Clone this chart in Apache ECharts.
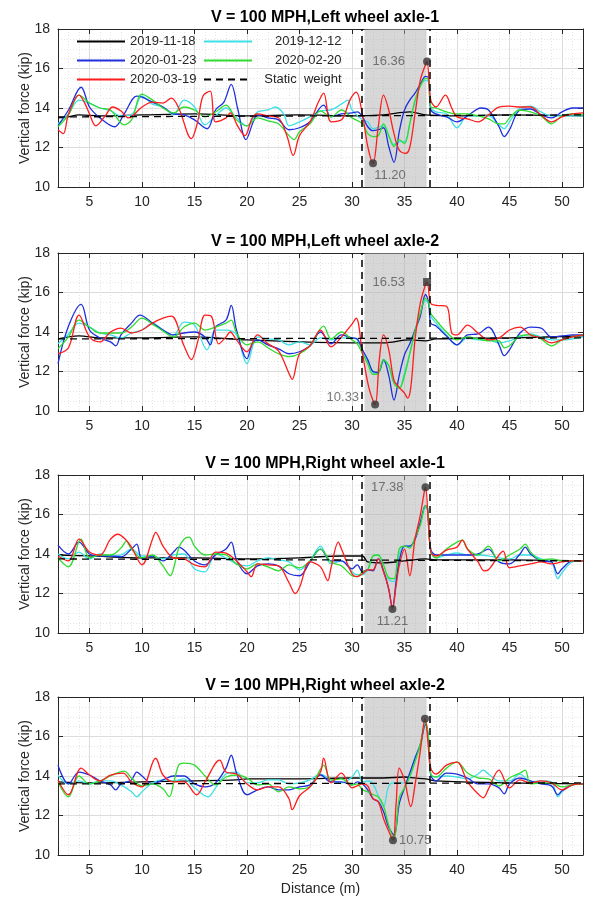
<!DOCTYPE html>
<html>
<head>
<meta charset="utf-8">
<script src="https://cdn.jsdelivr.net/npm/echarts@6/dist/echarts.min.js"></script>
<style>
html, body { margin: 0; padding: 0; background: #fff; }
#chart { width: 589px; height: 901px; }
</style>
</head>
<body>
<div id="chart"></div>
<script>
// series names (legend order follows plotting order)
const names = ["2019-11-18", "2019-12-12", "2020-01-23", "2020-02-20", "2020-03-19", "Static weight"];
const titles = [
  "V = 100 MPH,Left wheel axle-1",
  "V = 100 MPH,Left wheel axle-2",
  "V = 100 MPH,Right wheel axle-1",
  "V = 100 MPH,Right wheel axle-2"
];
const shade = [31.2, 37.1];      // gray band (m)
const vlines = [30.9, 37.4];     // dashed markers (m)

// ---- panel 1: left wheel axle-1  [distance m, force kip]
const p1Black = [[2,13.5],[3,13.55],[4,13.65],[6,13.6],[10,13.65],[15,13.7],[20,13.6],[25,13.65],[30,13.6],[33,13.65],[35.5,13.8],[37,13.65],[40,13.6],[45,13.65],[52,13.6]];
const p1Cyan = [[2,13.2],[3,13.7],[4,14.4],[5,14.25],[6,14.0],[7,13.85],[8,13.6],[9,13.65],[10,14.6],[11,14.2],[12,14.05],[13,13.65],[14,14.4],[15,14.05],[16,13.15],[17,13.6],[18,14.0],[19,13.5],[20,13.1],[21,13.8],[22,13.9],[22.7,14.05],[23.5,13.7],[24,13.1],[25,13.3],[26,13.55],[27,13.85],[28,13.9],[29,14.2],[29.6,14.4],[30,13.9],[31,13.4],[31.5,13.3],[32,12.95],[33,13.1],[33.5,12.6],[34,12.15],[34.5,12.3],[35,12.3],[35.5,13.2],[36,14.3],[36.5,15.1],[37,15.4],[37.3,15.3],[37.5,14.05],[38,13.8],[39,13.7],[40,13.0],[41,13.6],[42,13.6],[43,13.6],[44,13.15],[44.5,12.95],[45,13.3],[46,14.0],[47,14.1],[48,13.8],[49,13.6],[50,13.6],[51,13.6],[52,13.6]];
const p1Blue = [[2,13.1],[3,13.9],[4.2,15.05],[5,14.05],[6,13.5],[7.4,13.05],[8.3,13.7],[9.5,14.6],[10,14.55],[11,14.3],[12,14.05],[13,13.7],[14,13.65],[15,13.4],[16.2,12.95],[17,13.9],[17.8,14.3],[18.5,15.2],[19.1,14.0],[19.9,12.4],[20.6,13.3],[21,13.65],[22,13.5],[23,13.4],[24,12.9],[25,13.0],[26,13.3],[27.3,14.15],[28,13.55],[29,13.7],[30,13.75],[30.5,13.8],[31,13.55],[31.5,13.05],[32,12.85],[32.5,12.9],[33,13.0],[33.5,12.05],[34,11.25],[34.5,12.8],[35,13.9],[35.5,14.4],[36,14.75],[36.5,15.2],[37,15.6],[37.3,15.5],[37.5,13.9],[38,13.7],[39,13.55],[40,13.3],[41,13.6],[42.3,14.0],[43,13.9],[44,13.05],[44.5,12.55],[45,12.9],[46,13.9],[47,13.95],[48,13.65],[49,13.5],[50,13.8],[51,14.0],[52,14.0]];
const p1Green = [[2,13.05],[3,13.65],[4,14.65],[5,14.25],[6,14.0],[7,13.9],[8.3,13.15],[9,13.4],[10,14.7],[11,14.4],[12,14.0],[13,13.75],[14,14.05],[15,13.9],[16,13.55],[17,13.8],[18,14.15],[19,13.4],[20,13.1],[21,13.5],[22,13.35],[23,13.2],[24,12.6],[24.5,12.4],[25,12.8],[26,13.2],[27,13.85],[28,13.55],[29,13.9],[30,13.5],[31,13.2],[31.5,12.7],[32,12.55],[32.5,12.6],[33,13.2],[33.5,12.6],[34,12.05],[34.5,12.4],[35,12.2],[35.5,13.2],[36,14.4],[36.5,15.1],[37,15.5],[37.3,15.4],[37.5,14.05],[38,14.0],[39,13.8],[40,13.7],[41,13.7],[42,13.6],[43,13.45],[44,13.2],[44.5,13.2],[45,13.5],[46,13.9],[47,13.8],[48,13.6],[49,13.2],[50,13.6],[51,13.7],[52,13.65]];
const p1Red = [[2,12.9],[2.5,12.7],[3,13.7],[4,14.65],[4.5,14.3],[5,13.7],[5.6,13.1],[6.5,13.6],[7.2,14.05],[8,13.85],[8.7,13.5],[10,14.05],[11,14.3],[12,14.25],[12.8,14.5],[13.5,14.0],[14.7,12.45],[15.3,13.3],[15.8,14.6],[16.5,14.85],[17,13.3],[18,13.5],[18.4,13.75],[19.1,13.1],[19.8,12.6],[20.5,13.5],[21,13.7],[22,13.6],[23,13.5],[23.8,12.6],[24.4,11.6],[25,12.6],[26,13.3],[26.8,14.3],[27.3,14.75],[28,13.3],[29,13.4],[29.8,14.4],[30.4,14.8],[31,13.65],[31.5,12.05],[32,11.2],[32.5,13.05],[33,14.65],[33.5,13.9],[34,12.7],[34.5,11.87],[35.1,11.7],[35.5,12.0],[36,13.7],[36.5,15.4],[37,16.2],[37.15,16.36],[37.5,14.4],[38,14.05],[38.9,14.65],[39.5,14.0],[40,13.55],[41,13.45],[42,13.3],[43,13.65],[44,14.05],[45,14.1],[46,14.05],[47,14.05],[48,13.65],[49,13.3],[50,13.55],[51,13.7],[52,13.75]];
const p1Static = [[2,13.55],[52,13.65]];
const p1Peaks = [[37.15,16.36],[32.0,11.20]];

// ---- panel 2: left wheel axle-2
const p2Black = [[2,13.65],[4,13.8],[6,13.7],[10,13.7],[15,13.75],[20,13.6],[25,13.5],[30,13.45],[33,13.45],[35.5,13.6],[37,13.55],[38,13.65],[45,13.7],[52,13.8]];
const p2Cyan = [[2,13.4],[3,13.9],[4,14.45],[5,14.25],[6,13.95],[7,13.85],[8,13.7],[9,13.95],[10,14.1],[11,14.45],[12,14.1],[13,13.85],[14,14.5],[15,14.35],[16.2,13.1],[17,14.1],[18,14.1],[19,13.85],[20,12.4],[21,13.75],[22,13.65],[23,13.6],[24,13.35],[25,13.5],[26,13.35],[27,13.7],[28,13.6],[29,13.7],[30,13.7],[30.5,13.6],[31,13.0],[31.5,12.55],[32,11.95],[32.5,11.9],[33,12.5],[33.5,12.3],[34,11.4],[34.5,11.15],[35,11.95],[35.5,12.9],[36,14.05],[36.5,14.95],[37,15.6],[37.3,15.4],[37.5,14.8],[38,14.45],[39,13.85],[40,13.35],[41,13.7],[42,13.6],[43,13.6],[44,13.45],[45,13.55],[46,13.75],[47,13.9],[48,13.75],[49,13.6],[50,13.6],[51,13.65],[52,13.75]];
const p2Blue = [[2,12.4],[3,14.3],[4.2,15.4],[5,14.1],[6,13.7],[7,13.5],[7.5,13.3],[8,13.85],[9,14.45],[9.8,14.85],[11,14.45],[12,14.1],[13,13.85],[14,13.95],[15,14.0],[16,13.75],[16.5,13.35],[17,14.25],[18,14.6],[18.5,15.35],[19,14.1],[20,12.65],[20.5,13.4],[21,13.6],[22,13.35],[23,13.15],[24,12.9],[25,13.0],[26,13.3],[27,14.0],[28,13.4],[29,13.85],[30,13.7],[30.5,13.65],[31,13.1],[31.5,12.6],[32,12.0],[32.5,11.95],[33,12.6],[33.5,11.8],[34,10.55],[34.5,11.8],[35,12.85],[35.5,13.4],[36,14.1],[36.5,14.8],[37,15.9],[37.3,15.5],[37.5,14.45],[38,14.3],[39,13.8],[40,13.35],[41,13.85],[42,13.9],[43,14.25],[44,13.35],[44.5,12.8],[45,13.1],[46,13.95],[47,14.25],[48,14.2],[49,13.75],[50,13.8],[51,13.85],[52,13.85]];
const p2Green = [[2,13.15],[3,13.75],[4,14.6],[5,14.25],[6,13.95],[7,13.95],[8,13.95],[9,14.25],[10,14.7],[11,14.4],[12,14.05],[13,13.75],[14,14.25],[15,14.45],[16,14.1],[17,14.25],[18,14.45],[18.5,14.6],[19,13.95],[20,13.35],[21,13.5],[22,13.2],[23,12.9],[24,12.75],[25,12.9],[26,13.3],[27.3,14.3],[28,13.65],[29,14.0],[30,13.6],[30.5,13.4],[31,12.9],[31.5,12.4],[32,11.85],[32.5,11.9],[33,12.6],[33.5,12.3],[34,11.4],[34.5,11.15],[35,11.8],[35.5,12.9],[36,14.05],[36.5,14.95],[37,15.7],[37.3,15.5],[37.5,14.95],[38,14.6],[39,14.0],[40,13.6],[41,13.75],[42,13.65],[43,13.55],[44,13.55],[44.5,13.2],[45,13.3],[46,13.8],[47,13.85],[48,13.65],[49,13.3],[50,13.6],[51,13.75],[52,13.85]];
const p2Red = [[2,12.9],[3,13.2],[4,14.85],[5,13.75],[6,13.5],[7,14.0],[8,14.2],[9,13.95],[10,14.1],[11,14.45],[12,14.7],[12.8,14.8],[14,13.3],[14.7,12.6],[15.3,13.5],[16,14.85],[16.6,14.8],[17.3,13.4],[18,13.75],[18.4,14.0],[19,13.6],[20,13.0],[21,13.85],[22,13.4],[23,13.05],[24,11.9],[24.3,11.6],[25,12.9],[26,13.3],[27,14.1],[28,13.25],[29,13.75],[30,14.4],[30.4,14.7],[31,12.9],[31.6,11.2],[32.2,10.33],[32.6,12.6],[33,13.85],[33.5,13.1],[34,11.55],[34.5,11.2],[35,10.9],[35.3,10.65],[35.6,11.2],[36,13.6],[36.5,15.45],[37,16.4],[37.15,16.53],[37.5,15.45],[38,15.35],[39,15.3],[39.5,13.95],[40,13.85],[41,14.35],[42,13.95],[43,13.6],[44,13.7],[45,14.1],[46,14.25],[47,13.85],[48,13.7],[49,13.45],[50,13.6],[51,13.75],[52,13.85]];
const p2Static = [[2,13.65],[52,13.7]];
const p2Peaks = [[37.15,16.53],[32.2,10.33]];

// ---- panel 3: right wheel axle-1
const p3Black = [[2,13.95],[5,13.9],[10,13.8],[15,13.8],[20,13.75],[25,13.8],[29,13.9],[31,13.9],[31.5,13.6],[33,13.55],[35,13.65],[37,13.75],[38,13.7],[45,13.7],[52,13.65]];
const p3Cyan = [[2,14.0],[3,13.75],[4,14.1],[5,13.75],[6,14.0],[7,13.9],[8,13.95],[9,14.25],[10,13.9],[11,13.9],[12,13.75],[13,13.95],[14,14.0],[15,13.25],[16,13.1],[17,14.0],[18,13.8],[19,13.5],[20,13.4],[21,13.65],[22,13.8],[23,13.7],[24,13.6],[25,13.2],[26,13.65],[27,14.4],[28,13.5],[29,13.65],[30,13.1],[30.5,12.95],[31,12.95],[31.5,13.2],[32,13.9],[32.5,13.95],[33,13.1],[33.5,12.7],[34,12.6],[34.5,14.0],[35,14.4],[35.5,14.4],[36,14.75],[36.5,15.5],[37,16.35],[37.2,16.2],[37.5,14.15],[38,13.8],[39,13.95],[40,14.05],[41,13.95],[42,13.95],[43,13.9],[44,13.8],[45,13.75],[46,13.95],[47,13.95],[48,13.75],[49,13.6],[49.6,12.75],[50,13.05],[51,13.6],[52,13.65]];
const p3Blue = [[2,14.45],[3,14.0],[4,14.6],[5,14.0],[6,13.9],[7,13.9],[8,13.85],[9,14.25],[9.5,14.5],[10,13.75],[11,13.9],[12,13.65],[13,14.1],[13.5,14.35],[14,14.2],[15,13.65],[16,13.45],[17,13.95],[18,14.25],[18.5,14.6],[19,13.7],[20,13.0],[21,13.4],[22,13.5],[23,13.4],[24,13.0],[25,12.9],[26,13.6],[27,14.25],[28,13.65],[29,13.65],[30,13.25],[30.5,13.45],[31,13.1],[31.5,13.2],[32,13.15],[32.5,13.75],[33,13.15],[33.5,12.2],[33.85,11.3],[34.2,12.6],[34.5,13.65],[35,14.4],[35.5,14.4],[36,14.75],[36.5,15.6],[37,16.45],[37.2,16.3],[37.5,14.25],[38,13.95],[39,13.95],[40,13.95],[41,13.95],[42,14.0],[43,14.25],[44,13.6],[45,13.5],[46,14.0],[46.5,14.35],[47,14.0],[48,13.65],[49,13.6],[49.6,13.0],[50,13.25],[51,13.65],[52,13.65]];
const p3Green = [[2,13.8],[3,13.35],[4.2,14.75],[5,13.8],[6,13.95],[7,13.95],[8,14.3],[8.5,14.65],[9,14.25],[10,13.8],[11,13.95],[12,13.4],[12.7,12.9],[13,13.25],[13.5,14.3],[14,14.75],[14.5,14.85],[15,14.4],[16,13.95],[17,14.0],[18,13.95],[19,13.5],[20,13.25],[21,13.5],[22,13.35],[23,13.15],[24,13.45],[25,13.3],[26,13.65],[27,14.25],[28,13.6],[29,13.4],[30,12.9],[30.5,12.85],[31,13.1],[31.5,13.2],[32,13.9],[32.5,13.95],[33,13.45],[33.5,12.8],[34,12.75],[34.5,14.25],[35,14.4],[35.5,14.3],[36,14.85],[36.5,15.45],[37,16.45],[37.2,16.3],[37.5,14.15],[38,13.8],[39,14.25],[40,14.6],[40.5,14.7],[41,14.25],[42,13.95],[43,14.4],[44,13.65],[45,13.95],[46,14.25],[46.5,14.5],[47,14.1],[48,13.7],[49,13.75],[50,13.65],[51,13.65],[52,13.65]];
const p3Red = [[2,13.9],[3,13.65],[4,14.75],[5,14.1],[6,13.95],[7,14.75],[7.7,15.0],[8.5,14.7],[9,14.35],[10,13.45],[11,14.75],[11.3,15.1],[12,14.4],[13,13.8],[14,13.75],[15,13.45],[16,13.35],[17,14.1],[18,14.05],[19,13.65],[20,13.1],[20.4,12.85],[21,13.5],[22,13.45],[23,13.4],[24,12.55],[24.6,12.0],[25,12.3],[26,13.6],[27,13.35],[27.7,12.65],[28,13.3],[28.7,14.6],[29,14.25],[30,13.0],[30.5,12.85],[31,13.0],[31.5,13.2],[32,13.2],[32.5,13.75],[33,13.1],[33.5,12.25],[33.85,11.21],[34.2,12.4],[34.5,13.4],[35,14.25],[35.5,12.9],[36,14.75],[36.5,15.95],[36.9,17.2],[37.0,17.38],[37.5,14.1],[38,13.9],[39,14.2],[40,14.35],[40.5,14.7],[41,14.25],[42,13.6],[42.6,13.15],[43,13.2],[44,13.95],[44.4,14.15],[45,13.3],[46,13.4],[47,13.5],[48,13.6],[49,13.5],[50,13.6],[51,13.65],[52,13.65]];
const p3Static = [[2,13.75],[52,13.65]];
const p3Peaks = [[37.0,17.38],[33.85,11.21]];

// ---- panel 4: right wheel axle-2
const p4Black = [[2,13.7],[5,13.65],[10,13.7],[15,13.75],[19,13.8],[20,13.85],[25,13.85],[30,13.9],[31,13.9],[33,13.9],[35,13.95],[36,13.9],[37,13.85],[38,13.75],[45,13.65],[52,13.6]];
const p4Cyan = [[2,14.05],[3,13.6],[4,13.75],[5,13.6],[6,13.75],[7,13.75],[8,13.55],[9,13.2],[9.5,12.95],[10,13.2],[11,13.65],[12,13.8],[13,13.75],[14,13.85],[15,13.4],[16.3,12.95],[17,13.4],[18,14.1],[19,14.2],[20,13.65],[21,13.65],[22,13.8],[23,13.8],[24,13.6],[25,13.65],[26,13.8],[27,14.1],[28,13.8],[29,13.65],[30,13.95],[30.5,14.3],[31,13.7],[31.5,13.75],[32,13.6],[32.5,13.0],[33,12.45],[33.5,13.5],[34,13.65],[35,13.65],[35.5,14.0],[36,14.95],[36.5,15.45],[37,16.7],[37.3,15.8],[37.5,14.1],[38,13.95],[39,14.0],[40,13.95],[41,13.85],[42,14.1],[42.5,14.3],[43,14.1],[44,13.75],[45,13.75],[46,14.1],[47,13.7],[48,13.75],[49,13.7],[49.6,12.95],[50,13.2],[51,13.55],[52,13.6]];
const p4Blue = [[2,14.55],[3,13.6],[4,14.2],[5,14.05],[6,13.75],[7,13.55],[7.5,13.3],[8,13.6],[9,13.8],[9.5,14.2],[10,14.0],[11,13.6],[12,13.8],[13,14.0],[14,14.0],[15,13.6],[16,13.45],[17,13.65],[18,14.4],[18.5,15.05],[19,14.15],[20,13.05],[21,13.3],[22,13.45],[23,13.3],[24,13.3],[25,13.45],[26,13.55],[27,14.05],[28,13.7],[29,13.7],[30,13.55],[30.5,13.7],[31,13.6],[31.5,13.3],[32,12.85],[32.5,12.7],[33,12.2],[33.5,11.4],[34,11.0],[34.5,12.6],[35,13.4],[35.5,14.15],[36,14.9],[36.5,15.6],[37,16.6],[37.3,15.8],[37.5,14.05],[38,13.75],[39,14.15],[40,14.1],[41,13.9],[42,13.6],[43,13.6],[44,13.4],[44.5,13.1],[45,13.6],[46,13.9],[47,13.75],[48,13.6],[49,13.5],[49.6,13.05],[50,13.25],[51,13.55],[52,13.6]];
const p4Green = [[2,13.7],[3,12.95],[4,14.0],[5,13.6],[6,13.75],[7,14.0],[8.3,14.25],[9,13.9],[10,13.5],[11,13.6],[12,13.35],[12.6,12.95],[13,13.6],[13.5,14.55],[14,14.65],[15,14.55],[16,14.0],[17,13.55],[18,13.95],[19,14.05],[20,13.9],[21,13.55],[22,13.6],[23,13.2],[24,13.45],[25,13.35],[26,13.45],[27,14.35],[27.3,14.55],[28,13.8],[29,13.85],[30,13.55],[30.5,13.6],[31,13.3],[31.5,13.2],[32,13.05],[32.5,12.95],[33,12.5],[33.5,11.5],[34,10.8],[34.5,12.9],[35,13.4],[35.5,13.95],[36,14.7],[36.5,15.6],[37,16.75],[37.3,15.9],[37.5,14.1],[38,13.95],[39,14.4],[40,14.7],[41,14.15],[42,13.9],[43,13.85],[44,13.5],[45,13.9],[46,14.15],[46.5,14.3],[47,13.6],[48,13.65],[49,13.65],[50,13.45],[51,13.55],[52,13.6]];
const p4Red = [[2,13.8],[3,13.05],[4.2,14.4],[5,14.05],[6,13.75],[7,14.05],[8.2,14.15],[9,13.7],[10,13.45],[11.3,14.9],[12,14.05],[13,13.7],[14,13.7],[15.2,13.05],[16,13.7],[17.4,14.8],[18,14.2],[19,14.1],[20,13.6],[21,13.3],[22,13.45],[23,13.45],[24,12.85],[24.3,12.3],[25,13.0],[26,13.45],[27,14.2],[27.3,14.9],[28,13.65],[29,14.15],[30,13.4],[30.5,13.5],[31,13.6],[31.5,13.5],[32,12.85],[32.5,12.7],[33,11.85],[33.5,11.2],[33.9,10.75],[34.2,12.6],[34.5,14.4],[35,13.8],[35.6,12.45],[36,13.55],[36.5,15.25],[36.95,16.9],[37.5,14.4],[38,14.1],[39,14.55],[40,14.7],[41,13.7],[42,13.1],[42.5,12.9],[43,13.35],[44,14.3],[45,13.4],[46,13.8],[47,13.65],[48,13.75],[49,13.65],[50,13.3],[51,13.55],[52,13.6]];
const p4Static = [[2,13.6],[52,13.65]];
const p4Peaks = [[36.95,16.90],[33.9,10.75]];

const panelData = [
  { lines: [p1Black, p1Cyan, p1Blue, p1Green, p1Red, p1Static], peaks: p1Peaks },
  { lines: [p2Black, p2Cyan, p2Blue, p2Green, p2Red, p2Static], peaks: p2Peaks },
  { lines: [p3Black, p3Cyan, p3Blue, p3Green, p3Red, p3Static], peaks: p3Peaks },
  { lines: [p4Black, p4Cyan, p4Blue, p4Green, p4Red, p4Static], peaks: p4Peaks }
];

// styling / layout
const FONT = "Liberation Sans, Arial, sans-serif";
const INK = "#262626";
const colors = ["#000000", "#3ee0e6", "#1e2fdc", "#2fdc2f", "#ff1c1c", "#000000"];
const gridTops = [29, 253, 475, 697];
const gridH = 158;
// label placement of [max, min] annotation per panel
const peakLabels = [
  [{ position: "left", distance: 18 }, { position: "bottom", distance: 2, offset: [17, 0] }],
  [{ position: "left", distance: 18, symbol: "rect" }, { position: "left", distance: 12, offset: [0, -7] }],
  [{ position: "left", distance: 18 }, { position: "bottom", distance: 2 }],
  [{ show: false }, { position: "right", distance: 2 }]
];

const grid = [], xAxis = [], yAxis = [], series = [], title = [];

panelData.forEach((p, i) => {
  const top = gridTops[i];
  grid.push({ left: 58, right: 6, top: top, height: gridH });
  title.push({
    text: titles[i], left: 320, top: top - 24, textAlign: "center",
    textStyle: { fontFamily: FONT, fontSize: 16, fontWeight: "bold", color: "#000" }
  });

  const axLine = { show: true, onZero: false, lineStyle: { color: INK, width: 1 } };
  const tick = { show: true, inside: true, length: 5, lineStyle: { color: INK } };

  xAxis.push({
    type: "value", gridIndex: i, position: "bottom", min: 2, max: 52, splitNumber: 10,
    axisLine: axLine, axisTick: tick,
    minorTick: { show: false, splitNumber: 5 },
    axisLabel: { fontFamily: FONT, fontSize: 14, color: INK, margin: 8, showMinLabel: false, showMaxLabel: false },
    splitLine: { show: true, lineStyle: { color: "#dcdcdc", width: 1 } },
    minorSplitLine: { show: true, lineStyle: { color: "#e4e4e4", width: 1, type: [1, 2] } },
    name: i === 3 ? "Distance (m)" : "", nameLocation: "middle", nameGap: 27, nameMoveOverlap: false,
    nameTextStyle: { fontFamily: FONT, fontSize: 14, color: INK }
  });
  xAxis.push({
    type: "value", gridIndex: i, position: "top", min: 2, max: 52, splitNumber: 10,
    axisLine: axLine, axisTick: tick, axisLabel: { show: false }, splitLine: { show: false }
  });
  yAxis.push({
    type: "value", gridIndex: i, position: "left", min: 10, max: 18, interval: 2,
    axisLine: axLine, axisTick: tick,
    minorTick: { show: false, splitNumber: 4 },
    axisLabel: { fontFamily: FONT, fontSize: 14, color: INK, margin: 8 },
    splitLine: { show: true, lineStyle: { color: "#dcdcdc", width: 1 } },
    minorSplitLine: { show: true, lineStyle: { color: "#e4e4e4", width: 1, type: [1, 2] } },
    name: "Vertical force (kip)", nameLocation: "middle", nameGap: 26, nameMoveOverlap: false,
    nameTextStyle: { fontFamily: FONT, fontSize: 14, color: INK }
  });
  yAxis.push({
    type: "value", gridIndex: i, position: "right", min: 10, max: 18, interval: 2,
    axisLine: axLine, axisTick: tick, axisLabel: { show: false }, splitLine: { show: false }
  });

  p.lines.forEach((d, k) => {
    series.push({
      name: names[k], type: "line", xAxisIndex: 2 * i, yAxisIndex: 2 * i,
      data: d, symbol: "none", smooth: k === 5 ? false : 0.35, z: 2,
      lineStyle: { color: colors[k], width: 1.3, type: k === 5 ? [7, 5] : "solid" },
      itemStyle: { color: colors[k] }
    });
  });

  // translucent gray band drawn over the curves, plus dashed boundaries
  series.push({
    type: "line", xAxisIndex: 2 * i, yAxisIndex: 2 * i, data: [], z: 3, silent: true,
    markArea: {
      silent: true,
      itemStyle: { color: "rgba(175,175,175,0.5)" },
      data: [[{ xAxis: shade[0] }, { xAxis: shade[1] }]]
    },
    markLine: {
      silent: true, symbol: "none", animation: false,
      label: { show: false },
      lineStyle: { color: "#000", width: 1.5, type: [7, 5] },
      data: vlines.map(v => ({ xAxis: v }))
    }
  });

  series.push({
    type: "scatter", xAxisIndex: 2 * i, yAxisIndex: 2 * i, z: 5, silent: true,
    data: p.peaks.map((pt, j) => {
      const s = peakLabels[i][j];
      return {
        value: pt,
        symbol: s.symbol || "circle",
        label: {
          show: s.show !== false, position: s.position, distance: s.distance, offset: s.offset || [0, 0],
          formatter: q => q.value[1].toFixed(2),
          fontFamily: FONT, fontSize: 13, color: "#555"
        }
      };
    }),
    symbolSize: 8,
    itemStyle: { color: "#333" }
  });
});

const legendText = { fontFamily: FONT, fontSize: 13, color: INK };
const nb = n => "\u00a0".repeat(n);
const legendBase = {
  top: 30, orient: "vertical", itemWidth: 48, itemHeight: 10, itemGap: 6,
  textStyle: legendText, selectedMode: false,
  itemStyle: { opacity: 0 }   // line only, no symbol in the key
};
const option = {
  animation: false,
  backgroundColor: "#fff",
  title: title,
  grid: grid,
  xAxis: xAxis,
  yAxis: yAxis,
  legend: [
    Object.assign({}, legendBase, { left: 71, data: [names[0], names[2], names[4]] }),
    Object.assign({}, legendBase, {
      left: 198,
      formatter: n => (n === names[5] ? nb(2) + "Static\u00a0\u00a0weight" : nb(5) + n),
      data: [names[1], names[3], names[5]]
    })
  ],
  series: series
};

const chart = echarts.init(document.getElementById("chart"), null, { renderer: "canvas" });
chart.setOption(option);
</script>
</body>
</html>
